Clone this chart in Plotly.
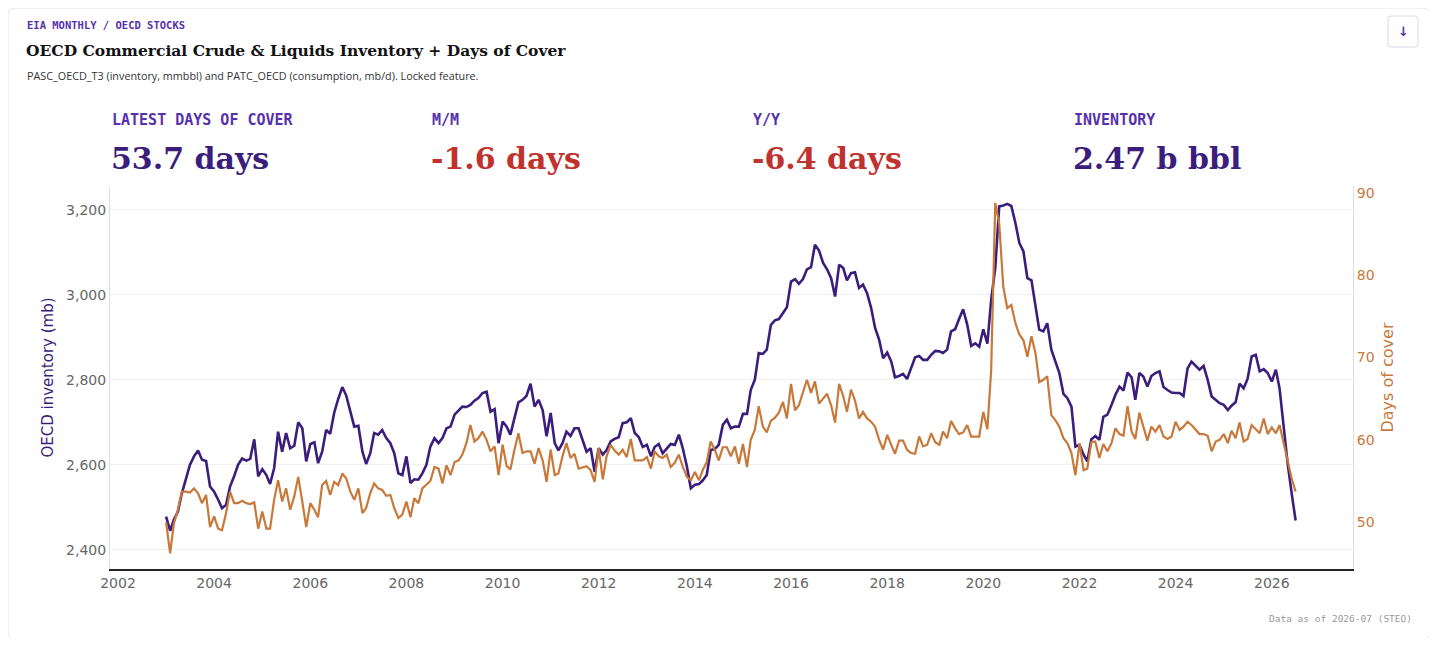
import plotly.graph_objects as go
import pandas as pd

# monthly series, Jan 2003 .. Jul 2026
dates = pd.date_range('2003-01-01', periods=283, freq='MS')

inventory_mb = [
    2478, 2445, 2471, 2490, 2533, 2565, 2600, 2620, 2634, 2612, 2609, 2549,  # 2003
    2537, 2518, 2498, 2506, 2549, 2573, 2600, 2615, 2610, 2614, 2660, 2573,  # 2004
    2590, 2576, 2555, 2592, 2678, 2631, 2675, 2639, 2645, 2700, 2686, 2608,  # 2005
    2649, 2653, 2604, 2631, 2682, 2673, 2722, 2755, 2783, 2763, 2729, 2690,  # 2006
    2692, 2631, 2602, 2627, 2675, 2671, 2682, 2663, 2651, 2627, 2580, 2576,  # 2007
    2620, 2557, 2566, 2565, 2580, 2600, 2643, 2663, 2651, 2663, 2686, 2690,  # 2008
    2718, 2729, 2737, 2736, 2741, 2751, 2757, 2769, 2772, 2725, 2731, 2651,  # 2009
    2702, 2690, 2671, 2710, 2747, 2753, 2762, 2791, 2737, 2753, 2729, 2667,  # 2010
    2722, 2651, 2634, 2651, 2678, 2668, 2686, 2686, 2659, 2631, 2639, 2584,  # 2011
    2639, 2624, 2635, 2655, 2661, 2665, 2698, 2700, 2710, 2675, 2665, 2642,  # 2012
    2647, 2620, 2642, 2649, 2627, 2637, 2649, 2647, 2671, 2639, 2596, 2545,  # 2013
    2553, 2555, 2563, 2576, 2635, 2637, 2647, 2694, 2706, 2686, 2690, 2690,  # 2014
    2720, 2720, 2776, 2800, 2863, 2861, 2871, 2929, 2940, 2943, 2957, 2971,  # 2015
    3031, 3037, 3026, 3037, 3060, 3065, 3118, 3104, 3075, 3060, 3039, 2996,  # 2016
    3071, 3063, 3034, 3051, 3053, 3016, 3024, 3004, 2969, 2922, 2894, 2851,  # 2017
    2864, 2843, 2806, 2809, 2814, 2802, 2827, 2853, 2856, 2847, 2847, 2859,  # 2018
    2868, 2867, 2863, 2871, 2914, 2919, 2943, 2966, 2930, 2880, 2886, 2878,  # 2019
    2919, 2885, 2988, 3063, 3208, 3210, 3214, 3209, 3169, 3122, 3102, 3039,  # 2020
    3034, 2973, 2918, 2914, 2933, 2871, 2843, 2816, 2767, 2757, 2737, 2643,  # 2021
    2647, 2624, 2608, 2660, 2668, 2659, 2713, 2718, 2741, 2765, 2784, 2775,  # 2022
    2817, 2806, 2753, 2816, 2808, 2784, 2809, 2816, 2820, 2783, 2776, 2770,  # 2023
    2769, 2769, 2762, 2827, 2843, 2833, 2824, 2833, 2800, 2761, 2753, 2745,  # 2024
    2741, 2729, 2739, 2747, 2791, 2780, 2802, 2855, 2859, 2820, 2825, 2816,  # 2025
    2796, 2824, 2780, 2690, 2604, 2533, 2469,                                # 2026
]

days_cover = [
    50.0, 46.2, 49.8, 51.5, 53.7, 53.7, 53.6, 54.1, 53.5, 52.3, 53.3, 49.4,  # 2003
    50.7, 49.2, 49.0, 51.1, 53.7, 52.3, 52.3, 52.6, 52.3, 52.2, 52.4, 49.2,  # 2004
    51.3, 49.2, 49.2, 52.7, 55.1, 52.5, 54.1, 51.5, 53.1, 55.5, 52.5, 49.4,  # 2005
    52.3, 51.5, 50.6, 54.5, 55.0, 53.3, 54.9, 54.5, 55.9, 55.3, 53.7, 52.7,  # 2006
    54.1, 51.1, 51.7, 53.5, 54.7, 54.1, 53.9, 53.2, 53.3, 51.7, 50.5, 50.9,  # 2007
    52.5, 50.6, 52.9, 52.3, 54.1, 54.6, 55.0, 56.7, 56.5, 54.7, 56.9, 55.7,  # 2008
    57.3, 57.5, 58.2, 59.6, 61.8, 59.8, 60.2, 61.0, 60.0, 58.6, 59.2, 55.7,  # 2009
    59.4, 56.8, 56.4, 58.8, 60.8, 58.4, 58.6, 58.6, 57.1, 59.0, 57.5, 54.9,  # 2010
    58.8, 55.7, 55.9, 58.0, 59.6, 57.8, 58.3, 56.5, 56.7, 56.8, 56.3, 54.9,  # 2011
    59.0, 55.2, 58.0, 59.4, 58.7, 58.2, 58.8, 57.9, 60.1, 57.5, 57.5, 57.5,  # 2012
    57.9, 56.5, 58.6, 58.0, 57.8, 58.2, 56.7, 57.2, 58.2, 56.7, 55.5, 55.1,  # 2013
    56.1, 55.1, 56.3, 57.3, 59.8, 58.8, 57.5, 59.1, 59.1, 58.0, 59.2, 57.1,  # 2014
    59.5, 56.7, 60.0, 61.2, 64.1, 61.6, 60.9, 62.3, 62.7, 63.3, 64.6, 62.6,  # 2015
    66.8, 63.6, 64.2, 65.7, 67.3, 65.7, 67.1, 64.4, 65.0, 65.6, 64.2, 62.1,  # 2016
    66.8, 65.3, 63.4, 66.1, 64.8, 62.6, 63.4, 62.6, 62.2, 61.6, 60.0, 58.8,  # 2017
    60.6, 59.3, 58.3, 59.9, 59.9, 58.8, 58.4, 58.3, 60.4, 59.2, 59.4, 60.8,  # 2018
    59.7, 59.4, 61.0, 60.2, 62.3, 61.4, 60.7, 60.9, 61.8, 60.4, 60.4, 60.4,  # 2019
    63.4, 61.3, 68.5, 88.8, 86.3, 78.6, 76.0, 76.4, 74.2, 72.8, 72.1, 70.1,  # 2020
    72.6, 70.5, 67.0, 67.3, 67.7, 63.0, 62.4, 61.6, 60.2, 59.6, 58.4, 55.7,  # 2021
    59.6, 56.3, 56.5, 59.7, 59.8, 57.8, 59.5, 58.6, 59.6, 61.4, 60.7, 60.5,  # 2022
    64.1, 61.0, 60.1, 63.3, 61.6, 59.9, 61.6, 61.0, 61.8, 60.4, 60.1, 60.4,  # 2023
    62.2, 61.2, 61.6, 62.2, 61.8, 61.2, 60.7, 60.7, 60.5, 58.6, 59.8, 60.0,  # 2024
    60.7, 59.6, 61.1, 60.2, 62.1, 59.8, 60.1, 61.8, 61.3, 60.8, 62.6, 60.7,  # 2025
    61.5, 60.8, 61.8, 59.6, 57.5, 55.3, 53.7,                                # 2026
]

kpi_labels = ['LATEST DAYS OF COVER', 'M/M', 'Y/Y', 'INVENTORY']
kpi_values = ['53.7 days', '-1.6 days', '-6.4 days', '2.47 b bbl']

PURPLE = '#3b1d7c'
LABEL_PURPLE = '#5631ad'
ORANGE = '#c8793a'
RED = '#c0322d'

# page body adds an 8px margin, so the figure is drawn 8px in from the window edge
OFF = 8
W, H = 1437 - 2 * OFF, 646 - 2 * OFF
PLOT_L, PLOT_R, PLOT_T, PLOT_B = 110, 1353, 186, 569   # plot box in window pixels
ML, MT = PLOT_L - OFF, PLOT_T - OFF
MR, MB = W - (PLOT_R - OFF), H - (PLOT_B - OFF)
PW, PH = PLOT_R - PLOT_L, PLOT_B - PLOT_T


def px(x):
    return (x - PLOT_L) / PW


def py(y):
    return (PLOT_B - y) / PH


def rounded_rect(x0, y0, x1, y1, r):
    # window-pixel box -> paper path with rounded corners
    a, b, c, d = px(x0), py(y1), px(x1), py(y0)
    rx, ry = r / PW, r / PH
    return (f'M {a+rx},{b} L {c-rx},{b} Q {c},{b} {c},{b+ry} '
            f'L {c},{d-ry} Q {c},{d} {c-rx},{d} L {a+rx},{d} '
            f'Q {a},{d} {a},{d-ry} L {a},{b+ry} Q {a},{b} {a+rx},{b} Z')


fig = go.Figure()
fig.add_trace(go.Scatter(x=dates, y=inventory_mb, mode='lines', name='Inventory',
                         line=dict(color=PURPLE, width=2.6), yaxis='y'))
fig.add_trace(go.Scatter(x=dates, y=days_cover, mode='lines', name='Days of cover',
                         line=dict(color=ORANGE, width=2.2), yaxis='y2'))

ann = []
ann.append(dict(x=px(25), y=py(25), text='<b>EIA MONTHLY / OECD STOCKS</b>',
                font=dict(family='DejaVu Sans Mono', size=10.5, color=LABEL_PURPLE)))
ann.append(dict(x=px(24), y=py(50),
                text='<b>OECD Commercial Crude &amp; Liquids Inventory + Days of Cover</b>',
                font=dict(family='DejaVu Serif', size=15.5, color='#111111')))
ann.append(dict(x=px(25), y=py(75),
                text='PASC_OECD_T3 (inventory, mmbbl) and PATC_OECD (consumption, mb/d). Locked feature.',
                font=dict(family='Open Sans', size=10.8, color='#333333')))

kpi_x = [111, 431, 752, 1073]
kpi_colors = [PURPLE, RED, RED, PURPLE]
for xk, lab, val, col in zip(kpi_x, kpi_labels, kpi_values, kpi_colors):
    ann.append(dict(x=px(xk - 1), y=py(120), text=f'<b>{lab}</b>',
                    font=dict(family='DejaVu Sans Mono', size=15, color=LABEL_PURPLE)))
    ann.append(dict(x=px(xk - 2), y=py(158), text=f'<b>{val}</b>',
                    font=dict(family='DejaVu Serif', size=30, color=col)))

ann.append(dict(x=px(1414), y=py(618), xanchor='right', text='Data as of 2026-07 (STEO)',
                font=dict(family='DejaVu Sans Mono', size=9.5, color='#999999')))
ann.append(dict(x=px(1403), y=py(31), xanchor='center', text='<b>↓</b>',
                font=dict(family='DejaVu Sans', size=13, color=LABEL_PURPLE)))

for a in ann:
    a.setdefault('xanchor', 'left')
    a.update(xref='paper', yref='paper', yanchor='middle', showarrow=False)

shapes = [
    dict(type='path', xref='paper', yref='paper', path=rounded_rect(8, 8, 1430, 640, 8),
         line=dict(color='#e6e6e6', width=1), layer='below'),
    dict(type='path', xref='paper', yref='paper', path=rounded_rect(1388, 16, 1418, 47, 3),
         line=dict(color='#d9d9e6', width=1)),
]

fig.update_layout(
    width=W, height=H,
    margin=dict(l=ML, r=MR, t=MT, b=MB),
    paper_bgcolor='white', plot_bgcolor='white',
    showlegend=False,
    font=dict(family='DejaVu Sans', size=14, color='#666666'),
    annotations=ann,
    shapes=shapes,
    xaxis=dict(
        type='date', range=['2001-11-01', '2027-09-10'],
        tick0='2002-01-01', dtick='M24', tickformat='%Y',
        showgrid=False, zeroline=False,
        showline=True, linecolor='#222222', linewidth=1.5,
        tickfont=dict(size=14, color='#666666'),
    ),
    yaxis=dict(
        range=[2355, 3256], tick0=2400, dtick=200, tickformat=',d',
        showgrid=True, gridcolor='#f0f0f4', gridwidth=1, zeroline=False,
        showline=True, linecolor='#dcdcee', linewidth=1,
        tickfont=dict(size=14, color='#666666'),
        title=dict(text='OECD inventory (mb)', standoff=8,
                   font=dict(size=15, color=PURPLE)),
    ),
    yaxis2=dict(
        overlaying='y', side='right',
        range=[44.3, 90.85], tick0=50, dtick=10,
        showgrid=False, zeroline=False,
        showline=True, linecolor='#dcdcee', linewidth=1,
        tickfont=dict(size=14, color=ORANGE),
        title=dict(text='Days of cover', standoff=8,
                   font=dict(size=16, color=ORANGE)),
    ),
)

fig.write_html('out.html')
